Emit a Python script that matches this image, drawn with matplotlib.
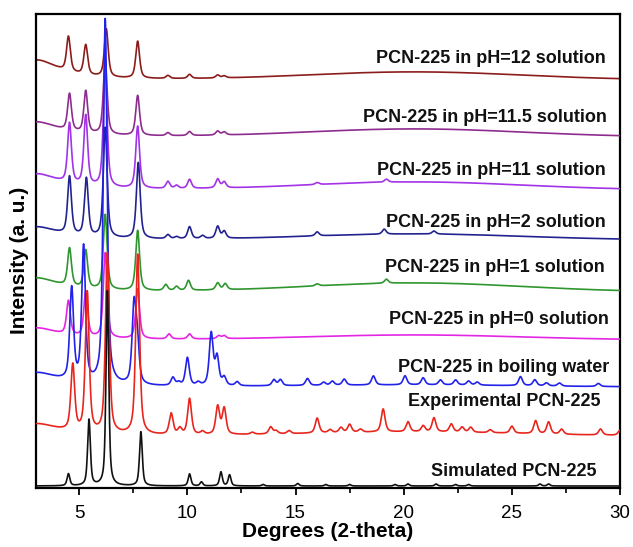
import numpy as np
import matplotlib
matplotlib.use("Agg")
import matplotlib.pyplot as plt

# ── Data ─────────────────────────────────────────────────────────────────────
# peaks are (2-theta position, height above the trace's own background)
sim_peaks = [(4.5, 12), (5.45, 66), (6.3, 195), (7.85, 54), (10.1, 12),
             (10.65, 4), (11.55, 14), (11.95, 11), (13.5, 1.5), (15.1, 2.5),
             (16.4, 1.5), (17.5, 1.5), (19.6, 1.5), (20.2, 2), (21.5, 2),
             (22.4, 1.5), (23.0, 1.5), (26.3, 2), (26.7, 2)]
exp_peaks = [(4.7, 66), (5.37, 140), (6.3, 180), (7.7, 180), (9.25, 21),
             (9.65, 6), (10.1, 36), (10.7, 3), (11.4, 28), (11.7, 26),
             (13.0, 2), (13.85, 7), (14.1, 3), (14.7, 3), (16.0, 15),
             (16.6, 3), (17.1, 5), (17.5, 8), (18.0, 3), (19.05, 23),
             (20.2, 10), (20.9, 6), (21.4, 14), (22.2, 8), (22.7, 5),
             (23.1, 5), (24.0, 3), (25.0, 7), (26.1, 13), (26.7, 12),
             (27.3, 5), (29.1, 6), (30.0, 5)]
boil_peaks = [(4.65, 92), (5.2, 135), (6.2, 365), (7.53, 75), (7.68, 40),
              (9.33, 8), (9.6, 3), (10.0, 28), (10.5, 3), (11.1, 52),
              (11.37, 28), (11.7, 8), (12.3, 4), (14.0, 6), (14.3, 6),
              (15.55, 7), (16.3, 3), (16.7, 4), (17.25, 6), (18.6, 9),
              (20.06, 9), (20.9, 7), (21.7, 5), (22.4, 5), (23.0, 4),
              (23.4, 3), (25.4, 9), (26.06, 6), (26.6, 3), (27.2, 3), (29.0, 3)]
ph0_peaks = [(4.5, 34), (5.3, 45), (6.2, 85), (7.7, 50), (9.15, 5),
             (10.1, 5), (11.45, 3), (11.7, 3)]
ph1_peaks = [(4.55, 38), (5.3, 38), (6.2, 75), (7.7, 60), (9.0, 6), (9.5, 4),
             (10.05, 10), (11.4, 7), (11.75, 6), (16.0, 2), (19.2, 4)]
ph2_peaks = [(4.55, 58), (5.33, 58), (6.2, 110), (7.73, 76), (9.1, 4),
             (9.5, 2), (10.1, 12), (10.7, 3), (11.4, 12), (11.7, 7),
             (16.0, 4), (19.1, 5), (21.4, 3)]
ph11_peaks = [(4.55, 60), (5.3, 70), (6.2, 120), (7.7, 62), (9.1, 7),
              (9.5, 3), (10.1, 9), (11.4, 9), (11.7, 6), (16.0, 2), (19.2, 3)]
ph115_peaks = [(4.55, 37), (5.3, 42), (6.2, 75), (7.7, 40), (9.1, 3),
               (10.1, 4), (11.4, 4), (11.7, 3)]
ph12_peaks = [(4.5, 35), (5.3, 30), (6.25, 48), (7.7, 37), (9.1, 3),
              (10.1, 4), (11.4, 3), (11.7, 2)]

labels = ["Simulated PCN-225", "Experimental PCN-225",
          "PCN-225 in boiling water", "PCN-225 in pH=0 solution",
          "PCN-225 in pH=1 solution", "PCN-225 in pH=2 solution",
          "PCN-225 in pH=11 solution", "PCN-225 in pH=11.5 solution",
          "PCN-225 in pH=12 solution"]
peak_sets = [sim_peaks, exp_peaks, boil_peaks, ph0_peaks, ph1_peaks,
             ph2_peaks, ph11_peaks, ph115_peaks, ph12_peaks]
offsets = [2, 52, 101, 148, 196, 248, 298, 351, 408]      # stacking offset
low_angle = [0, 12, 14, 12, 14, 13, 16, 15, 20]           # rise near 3 deg
amorphous = [0, 4, 2, 5, 9, 6, 8, 8, 8]                   # broad hump ~21 deg

# ── Style ────────────────────────────────────────────────────────────────────
colors = ["#111111", "#e8261e", "#2222e8", "#e326e3", "#2f962f",
          "#232390", "#a233e6", "#8e2c8e", "#8c1c1c"]
label_pos = [(28.9, 16), (29.1, 87), (29.5, 121), (29.5, 168), (29.3, 220),
             (29.35, 266), (29.35, 318), (29.4, 371), (29.35, 430)]
FONT = "Liberation Sans"


def pattern(x, peaks, fwhm, eta=0.6):
    """Pseudo-Voigt sum for a list of (position, height) peaks."""
    y = np.zeros_like(x)
    sig = fwhm / 2.3548
    gam = fwhm / 2
    for pos, h in peaks:
        d = x - pos
        y += h * (eta / (1 + (d / gam) ** 2) + (1 - eta) * np.exp(-0.5 * (d / sig) ** 2))
    return y


x = np.linspace(3, 30, 2701)

fig = plt.figure(figsize=(6.33, 5.47), dpi=100)
ax = fig.add_axes([36 / 633, 59 / 547, 584 / 633, 474 / 547])

n = len(peak_sets)
for i in range(n - 1, -1, -1):
    fwhm = 0.15 if i == 0 else 0.21
    y = offsets[i] + pattern(x, peak_sets[i], fwhm)
    y += low_angle[i] / (1 + ((x - 3.0) / 1.3) ** 2)
    y += amorphous[i] * np.exp(-0.5 * ((x - 20.5) / 5.0) ** 2)
    ax.plot(x, y, color=colors[i], lw=1.2, zorder=10 - i if i else 20)
    lx, ly = label_pos[i]
    ax.text(lx, ly, labels[i], ha="right", va="center", fontsize=13,
            fontweight="bold", family=FONT, color="#111111", zorder=30)

ax.set_xlim(3, 30)
ax.set_ylim(0, 474)
ax.set_yticks([])
ax.set_xticks([5, 10, 15, 20, 25, 30])
ax.set_xticks([7.5, 12.5, 17.5, 22.5, 27.5], minor=True)
ax.tick_params(axis="x", which="major", direction="out", length=5, width=1.3,
               pad=7, labelsize=13.5)
ax.tick_params(axis="x", which="minor", direction="out", length=3.5, width=1.2)
for lab in ax.get_xticklabels():
    lab.set_family(FONT)
for sp in ax.spines.values():
    sp.set_linewidth(1.6)

ax.set_xlabel("Degrees (2-theta)", fontsize=15, fontweight="bold",
              family=FONT, labelpad=0.5)
ax.set_ylabel("Intensity (a. u.)", fontsize=15, fontweight="bold",
              family=FONT)
ax.yaxis.set_label_coords(-0.012, 0.48)

fig.savefig("out.png", dpi=100)
